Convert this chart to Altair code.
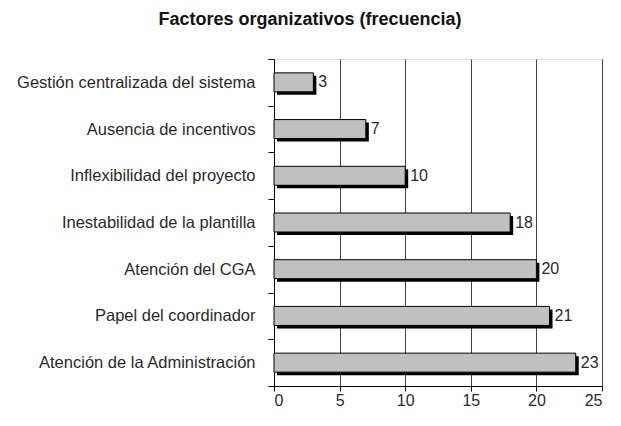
import altair as alt
import pandas as pd

categories = [
    "Gestión centralizada del sistema",
    "Ausencia de incentivos",
    "Inflexibilidad del proyecto",
    "Inestabilidad de la plantilla",
    "Atención del CGA",
    "Papel del coordinador",
    "Atención de la Administración",
]
values = [3, 7, 10, 18, 20, 21, 23]
x_ticks = [0, 5, 10, 15, 20, 25]

df = pd.DataFrame({"factor": categories, "freq": values})

FONT = "Liberation Sans"

y_enc = alt.Y(
    "factor:N",
    sort=categories,
    title=None,
    scale=alt.Scale(paddingInner=0, paddingOuter=0),
    axis=alt.Axis(
        tickBand="extent",
        labelFont=FONT,
        labelFontSize=16.5,
        labelColor="#2a2a2a",
        labelPadding=13,
        labelLimit=400,
        tickSize=6,
        tickColor="#000000",
        domainColor="#000000",
        grid=False,
    ),
)
x_enc = alt.X(
    "freq:Q",
    title=None,
    scale=alt.Scale(domain=[0, 25], nice=False),
    axis=alt.Axis(
        values=x_ticks,
        labelFont=FONT,
        labelFontSize=16,
        labelColor="#2a2a2a",
        labelPadding=1,
        tickSize=5,
        tickColor="#000000",
        domainColor="#000000",
        grid=True,
        gridColor="#444444",
        gridWidth=1,
    ),
)

base = alt.Chart(df)

shadow = base.mark_bar(
    color="#000000", size=19, xOffset=3, x2Offset=3, yOffset=3
).encode(x=x_enc, y=y_enc)

bars = base.mark_bar(
    color="#c0c0c0", size=19, stroke="#000000", strokeWidth=1
).encode(x=x_enc, y=y_enc)

labels = base.mark_text(
    align="left", baseline="middle", dx=5, dy=0, font=FONT, fontSize=16, color="#2a2a2a"
).encode(x=x_enc, y=y_enc, text="freq:Q")

chart = (
    alt.layer(shadow, bars, labels)
    .properties(
        width=328,
        height=327,
        autosize=alt.AutoSizeParams(type="none"),
        padding={"left": 266, "top": 51, "right": 10, "bottom": 26},
        title=alt.TitleParams(
            "Factores organizativos (frecuencia)",
            font=FONT,
            fontSize=18,
            fontWeight="bold",
            color="#111111",
            anchor="middle",
            dx=-128,
            offset=22,
        ),
    )
    .configure_view(stroke="#666666", strokeWidth=1)
    .configure(background="white")
)

chart.save("out.html", embed_options={"renderer": "svg", "actions": False})
